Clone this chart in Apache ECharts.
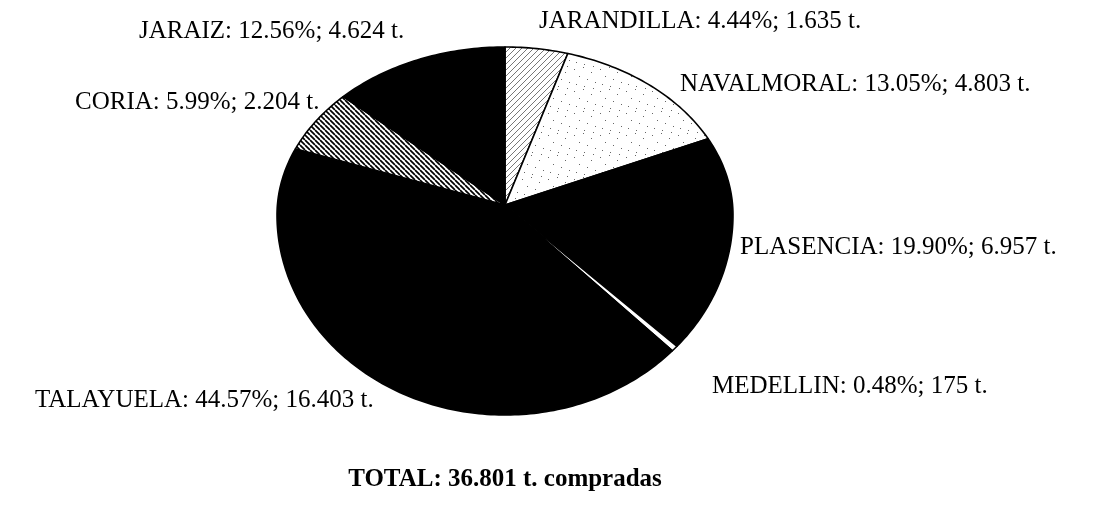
<!DOCTYPE html>
<html>
<head>
<meta charset="utf-8">
<script src="https://cdn.jsdelivr.net/npm/echarts@6/dist/echarts.min.js"></script>
<style>
  html, body { margin: 0; padding: 0; background: #fff; }
  #chart { width: 1099px; height: 523px; }
</style>
</head>
<body>
<div id="chart"></div>
<script>
// ---- data ----
const names = ['JARANDILLA', 'NAVALMORAL', 'PLASENCIA', 'MEDELLIN', 'TALAYUELA', 'CORIA', 'JARAIZ'];
const tonnes = [1635, 4803, 6957, 175, 16403, 2204, 4624];
const percentLabels = ['4.44', '13.05', '19.90', '0.48', '44.57', '5.99', '12.56'];
const tonneLabels = ['1.635', '4.803', '6.957', '175', '16.403', '2.204', '4.624'];
const totalLabel = '36.801';

// ---- layout & style (kept apart from the data) ----
const FONT = '"Liberation Serif", "Times New Roman", serif';
const APEX = [505, 205];
const ELL = { dy: 10, rx: 228, ryTop: 168, ryBot: 200 };
const labelPos = [[539, 21], [680, 84], [740, 247], [712, 386], [35, 400], [75, 102], [139, 31]];

function hatchTile(size, dir, color, lw) {
  const cv = document.createElement('canvas');
  cv.width = cv.height = size;
  const g = cv.getContext('2d');
  g.fillStyle = '#fff'; g.fillRect(0, 0, size, size);
  g.strokeStyle = color; g.lineWidth = lw; g.beginPath();
  for (const o of [-size, 0, size]) {
    if (dir > 0) { g.moveTo(o, size); g.lineTo(o + size, 0); }
    else { g.moveTo(o, 0); g.lineTo(o + size, size); }
  }
  g.stroke();
  return cv;
}
function stippleTile() {
  const cv = document.createElement('canvas');
  cv.width = 26; cv.height = 22;
  const g = cv.getContext('2d');
  g.fillStyle = '#fff'; g.fillRect(0, 0, 26, 22);
  g.fillStyle = '#666';
  const dots = [[2, 3], [11, 1], [19, 6], [7, 10], [15, 13], [23, 16], [4, 18], [12, 20], [21, 0]];
  dots.forEach(d => g.fillRect(d[0], d[1], 1, 1));
  return cv;
}
const fills = [
  { image: hatchTile(6, 1, '#777', 1), repeat: 'repeat' },
  { image: stippleTile(), repeat: 'repeat' },
  '#000',
  '#fff',
  '#000',
  { image: hatchTile(5, -1, '#000', 1.7), repeat: 'repeat' },
  '#000'
];

const total = tonnes.reduce((a, b) => a + b, 0);
const sliceData = [];
let acc = 0;
tonnes.forEach((v, i) => { sliceData.push([acc, acc + v, i]); acc += v; });

function renderItem(params, api) {
  const s = api.value(0), e = api.value(1), idx = api.value(2);
  const c = api.coord([0, 0]);
  const pts = [c];
  const n = Math.max(2, Math.ceil((e - s) / total * 360));
  for (let k = 0; k <= n; k++) {
    const v = s + (e - s) * k / n;
    const p = api.coord([1, v]);
    const dx = p[0] - c[0], dy = p[1] - c[1];
    const d = Math.hypot(dx, dy);
    const ux = dx / d, uy = dy / d;
    pts.push([c[0] + ELL.rx * ux, c[1] + ELL.dy + (uy < 0 ? ELL.ryTop : ELL.ryBot) * uy]);
  }
  return {
    type: 'polygon',
    shape: { points: pts },
    style: { fill: fills[idx], stroke: '#000', lineWidth: 1.6, lineJoin: 'round' }
  };
}

const labelGraphics = names.map((nm, i) => ({
  type: 'text',
  x: labelPos[i][0],
  y: labelPos[i][1],
  style: {
    text: nm + ': ' + percentLabels[i] + '%; ' + tonneLabels[i] + ' t.',
    font: '25px ' + FONT,
    fill: '#000',
    align: 'left',
    verticalAlign: 'middle'
  }
}));
labelGraphics.push({
  type: 'text',
  x: 505,
  y: 480,
  style: {
    text: 'TOTAL: ' + totalLabel + ' t. compradas',
    font: 'bold 25px ' + FONT,
    fill: '#000',
    align: 'center',
    verticalAlign: 'middle'
  }
});

const chart = echarts.init(document.getElementById('chart'), null, { renderer: 'canvas' });
chart.setOption({
  backgroundColor: '#fff',
  animation: false,
  polar: { center: APEX, radius: 100 },
  angleAxis: { type: 'value', min: 0, max: total, startAngle: 90, clockwise: true, show: false },
  radiusAxis: { type: 'value', min: 0, max: 1, show: false },
  series: [{
    type: 'custom',
    coordinateSystem: 'polar',
    renderItem: renderItem,
    data: sliceData,
    silent: true
  }],
  graphic: labelGraphics
});
</script>
</body>
</html>
